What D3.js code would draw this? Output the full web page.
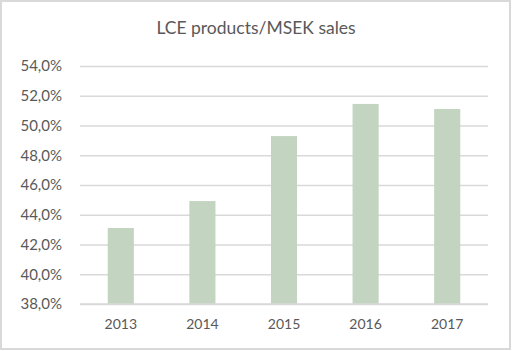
<!DOCTYPE html>
<html>
<head>
<meta charset="utf-8">
<script src="https://cdn.jsdelivr.net/npm/d3@7"></script>
<style>
  body { margin: 0; background: #fff; }
  svg { display: block; }
</style>
</head>
<body>
<script>
const years = ["2013", "2014", "2015", "2016", "2017"];
const shares = [43.11, 44.92, 49.29, 51.45, 51.11];
const yTicks = [38, 40, 42, 44, 46, 48, 50, 52, 54];

const w = 512;
const h = 351;
const plotLeft = 80, plotRight = 488, plotTop = 66, plotBottom = 304;
const font = "Lato, 'Open Sans', sans-serif";

const svg = d3.select("body")
  .append("svg")
  .attr("width", w)
  .attr("height", h);

svg.append("rect")
  .attr("x", 1).attr("y", 1)
  .attr("width", w - 3).attr("height", h - 3)
  .attr("fill", "#fff")
  .attr("stroke", "#d9d9d9")
  .attr("stroke-width", 2);

const xScale = d3.scaleBand()
  .domain(years)
  .range([plotLeft, plotRight])
  .paddingInner(0.68)
  .paddingOuter(0.34);

const yScale = d3.scaleLinear()
  .domain([38, 54])
  .range([plotBottom, plotTop]);

// gridlines + y labels
const yAxis = d3.axisLeft(yScale)
  .tickValues(yTicks)
  .tickSize(-(plotRight - plotLeft))
  .tickPadding(18)
  .tickFormat(d => d.toFixed(1).replace(".", ",") + "%");

const gy = svg.append("g")
  .attr("transform", "translate(" + plotLeft + ",0)")
  .call(yAxis);
gy.select(".domain").remove();
gy.selectAll("line").attr("stroke", "#d9d9d9").attr("stroke-width", 1.3);
gy.selectAll("text")
  .attr("fill", "#595959")
  .style("font-family", font)
  .style("font-size", "15px");

svg.selectAll("rect.bar")
  .data(years)
  .enter().append("rect")
  .attr("class", "bar")
  .attr("x", d => xScale(d))
  .attr("y", (d, i) => yScale(shares[i]))
  .attr("width", xScale.bandwidth())
  .attr("height", (d, i) => plotBottom - yScale(shares[i]))
  .attr("fill", "#c3d5c0");

// base line on top of bars
svg.append("line")
  .attr("x1", plotLeft).attr("x2", plotRight)
  .attr("y1", plotBottom).attr("y2", plotBottom)
  .attr("stroke", "#d9d9d9").attr("stroke-width", 1.3);

const xAxis = d3.axisBottom(xScale).tickSize(0).tickPadding(15);
const gx = svg.append("g")
  .attr("transform", "translate(0," + plotBottom + ")")
  .call(xAxis);
gx.select(".domain").remove();
gx.selectAll("text")
  .attr("fill", "#595959")
  .style("font-family", font)
  .style("font-size", "14px");

svg.append("text")
  .attr("x", w / 2)
  .attr("y", 34)
  .attr("text-anchor", "middle")
  .attr("fill", "#595959")
  .style("font-family", font)
  .style("font-size", "17.5px")
  .text("LCE products/MSEK sales");
</script>
</body>
</html>
